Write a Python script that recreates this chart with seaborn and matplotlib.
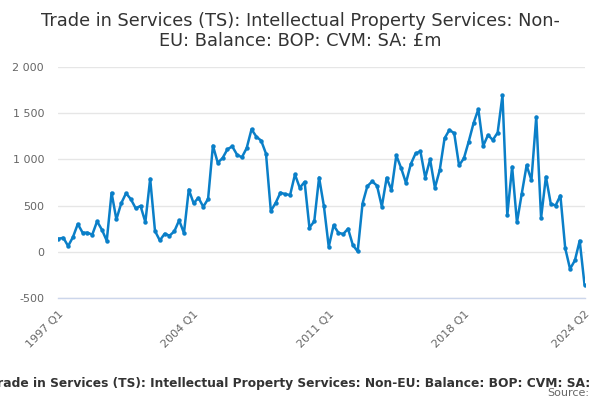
import numpy as np
import pandas as pd
import matplotlib
matplotlib.use("Agg")
import matplotlib.pyplot as plt
from matplotlib.transforms import Bbox
import seaborn as sns

values = [
    141, 152, 62, 159, 301, 207, 207, 185, 330, 239, 120, 638,
    351, 525, 634, 569, 471, 496, 322, 790, 225, 123, 196, 174,
    221, 341, 203, 674, 525, 585, 487, 572, 1149, 964, 1014, 1109,
    1141, 1051, 1022, 1123, 1326, 1246, 1203, 1062, 442, 529, 641, 623,
    616, 837, 692, 757, 261, 330, 804, 493, 54, 286, 207, 192,
    250, 72, 4, 522, 710, 762, 716, 490, 801, 667, 1043, 906,
    746, 949, 1065, 1087, 801, 1000, 692, 884, 1228, 1319, 1283, 935,
    1011, 1192, 1391, 1543, 1145, 1264, 1210, 1290, 1692, 399, 920, 319,
    630, 935, 775, 1460, 366, 812, 522, 500, 609, 40, -185, -94,
    120, -355,
]
periods = [f"{1997 + i // 4} Q{i % 4 + 1}" for i in range(len(values))]
label_periods = ["1997 Q1", "2004 Q1", "2011 Q1", "2018 Q1", "2024 Q2"]
y_ticks = [-500, 0, 500, 1000, 1500, 2000]
y_labels = ["-500", "0", "500", "1 000", "1 500", "2 000"]
title = "Trade in Services (TS): Intellectual Property Services: Non-\nEU: Balance: BOP: CVM: SA: £m"
caption = "Trade in Services (TS): Intellectual Property Services: Non-EU: Balance: BOP: CVM: SA: £m"

df = pd.DataFrame({"idx": np.arange(len(values)), "value": values, "period": periods})

sns.set_style("white")
plt.rcParams['font.family'] = ['DejaVu Sans']

fig = plt.figure(figsize=(6, 4), dpi=100)
ax = fig.add_axes([58 / 600, 1 - 298 / 400, (585 - 58) / 600, (298 - 67) / 400])

line_color = "#0a7fc8"
sns.lineplot(data=df, x="idx", y="value", ax=ax, color=line_color, linewidth=1.8,
             marker="o", markersize=3.2, markeredgewidth=0, zorder=3)

n = len(values)
ax.set_xlim(-0.1, n - 1 + 0.1)
ax.set_ylim(-500, 2000)
ax.set_yticks(y_ticks)
ax.set_yticklabels(y_labels)
ax.yaxis.grid(True, color="#e6e6e6", linewidth=1)
ax.set_axisbelow(True)

tick_pos = list(range(0, n, 7)) + [n - 1]
ax.set_xticks(tick_pos, minor=False)
labels = []
for p in tick_pos:
    labels.append(periods[p] if periods[p] in label_periods else "")
ax.set_xticklabels(labels, rotation=45, ha="right", rotation_mode="anchor")

ax.tick_params(axis="x", length=6, color="#ccd6eb", width=1, labelsize=8, labelcolor="#666666", pad=2)
ax.tick_params(axis="y", length=0, labelsize=8, labelcolor="#666666", pad=10)

for s in ["top", "right", "left"]:
    ax.spines[s].set_visible(False)
ax.spines["bottom"].set_color("#ccd6eb")
ax.spines["bottom"].set_linewidth(1)
ax.set_xlabel("")
ax.set_ylabel("")

fig.text(0.5, 1 - 31 / 400, title, ha="center", va="center", fontsize=12.8,
         color="#333333", linespacing=1.1)
cap = fig.text(303 / 600, 1 - 383 / 400, caption, ha="center", va="center", fontsize=8.8,
               fontweight="bold", color="#333333")
cap.set_clip_on(True)
cap.set_clip_box(Bbox.from_extents(0, 0, 591, 400))
fig.text(589 / 600, 1 - 393 / 400, "Source:", ha="right", va="center", fontsize=8,
         color="#666666")

fig.savefig("out.png", dpi=100)
